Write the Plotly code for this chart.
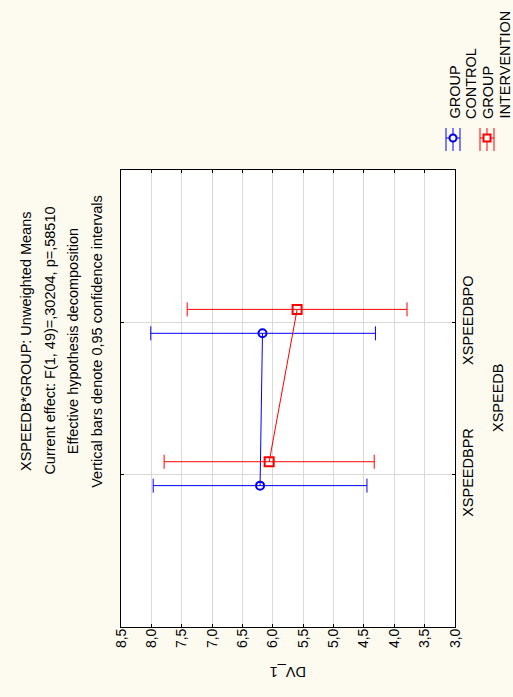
import plotly.graph_objects as go

# ---- data ----
categories = ["XSPEEDBPR", "XSPEEDBPO"]
control_mean = [6.21, 6.17]
control_lower = [4.45, 4.31]
control_upper = [7.97, 8.01]
interv_mean = [6.06, 5.60]
interv_lower = [4.33, 3.79]
interv_upper = [7.79, 7.41]
xtick_vals = [8.5, 8.0, 7.5, 7.0, 6.5, 6.0, 5.5, 5.0, 4.5, 4.0, 3.5, 3.0]
xtick_text = ["8,5", "8,0", "7,5", "7,0", "6,5", "6,0", "5,5", "5,0", "4,5", "4,0", "3,5", "3,0"]
title_lines = [
    "XSPEEDB*GROUP: Unweighted Means",
    "Current effect: F(1, 49)=,30204, p=,58510",
    "Effective hypothesis decomposition",
    "Vertical bars denote 0,95 confidence intervals",
]
legend_labels = [("GROUP", "CONTROL"), ("GROUP", "INTERVENTION")]

# ---- layout geometry ----
W, H = 513, 697
L, R, T, B = 121, 58, 170, 70
PW, PH = W - L - R, H - T - B
FONT = "Liberation Sans, Arial, sans-serif"
BLUE, RED = "#0000FF", "#FF0000"
BG = "#FDFAF0"


def px(xp):
    return (xp - L) / PW


def py(yp):
    return (H - B - yp) / PH


pos = list(range(len(categories)))
ctrl_y = [p - 0.072 for p in pos]
int_y = [p + 0.085 for p in pos]

fig = go.Figure()
fig.add_trace(go.Scatter(
    x=control_mean, y=ctrl_y, mode="lines+markers",
    line=dict(color=BLUE, width=1),
    marker=dict(symbol="circle-open", size=8, color=BLUE, line=dict(width=2, color=BLUE)),
    error_x=dict(type="data", symmetric=False,
                 array=[u - m for u, m in zip(control_upper, control_mean)],
                 arrayminus=[m - l for m, l in zip(control_mean, control_lower)],
                 color=BLUE, thickness=1, width=7),
    showlegend=False,
))
fig.add_trace(go.Scatter(
    x=interv_mean, y=int_y, mode="lines+markers",
    line=dict(color=RED, width=1),
    marker=dict(symbol="square-open", size=9, color=RED, line=dict(width=2, color=RED)),
    error_x=dict(type="data", symmetric=False,
                 array=[u - m for u, m in zip(interv_upper, interv_mean)],
                 arrayminus=[m - l for m, l in zip(interv_mean, interv_lower)],
                 color=RED, thickness=1, width=7),
    showlegend=False,
))

annotations = []
for i, line in enumerate(title_lines):
    annotations.append(dict(
        text=line, xref="paper", yref="paper", x=px(26 + i * 23.6), y=py(341),
        xanchor="center", yanchor="middle", textangle=-90, showarrow=False,
        font=dict(family=FONT, size=14.5, color="black")))
annotations.append(dict(
    text="XSPEEDB", xref="paper", yref="paper", x=px(498), y=py(398),
    xanchor="center", yanchor="middle", textangle=-90, showarrow=False,
    font=dict(family=FONT, size=14.5, color="black")))
annotations.append(dict(
    text="DV_1", xref="paper", yref="paper", x=px(288), y=py(672),
    xanchor="center", yanchor="middle", textangle=180, showarrow=False,
    font=dict(family=FONT, size=14.5, color="black")))
leg_x = [(454, 470.5), (487.5, 504.5)]
for (a, b), (xa, xb) in zip(legend_labels, leg_x):
    for txt, xx in ((a, xa), (b, xb)):
        annotations.append(dict(
            text=txt, xref="paper", yref="paper", x=px(xx), y=py(121),
            xanchor="center", yanchor="bottom", textangle=-90, showarrow=False,
            font=dict(family=FONT, size=14.5, color="black")))

shapes = []
for cx, col, kind in ((453, BLUE, "circle"), (487, RED, "rect")):
    for dx in (-7, 0, 7):
        shapes.append(dict(type="line", xref="paper", yref="paper",
                           x0=px(cx + dx), x1=px(cx + dx), y0=py(128), y1=py(151),
                           line=dict(color=col, width=1)))
    shapes.append(dict(type="line", xref="paper", yref="paper",
                       x0=px(cx - 7), x1=px(cx + 7), y0=py(138), y1=py(138),
                       line=dict(color=col, width=1)))
    shapes.append(dict(type=kind, xref="paper", yref="paper",
                       x0=px(cx - 3.5), x1=px(cx + 3.5), y0=py(134.5), y1=py(141.5),
                       line=dict(color=col, width=2), fillcolor="white"))

fig.update_layout(
    width=W, height=H,
    margin=dict(l=L, r=R, t=T, b=B, pad=0),
    paper_bgcolor=BG, plot_bgcolor="white",
    font=dict(family=FONT, size=14, color="black"),
    annotations=annotations, shapes=shapes,
    showlegend=False,
)
fig.update_xaxes(
    range=[8.5, 3.0], tickvals=xtick_vals, ticktext=xtick_text, tickangle=-90,
    showgrid=True, gridcolor="#D9D9D9", gridwidth=1, zeroline=False,
    showline=True, linecolor="black", linewidth=1, mirror="ticks",
    ticks="inside", ticklen=3, tickcolor="black",
    tickfont=dict(family=FONT, size=14, color="black"), ticklabelstandoff=-5,
)
fig.update_yaxes(
    range=[-1, 2], tickvals=pos, ticktext=categories, tickangle=-90, side="right",
    showgrid=True, gridcolor="#D9D9D9", gridwidth=1, zeroline=False,
    showline=True, linecolor="black", linewidth=1, mirror="ticks",
    ticks="inside", ticklen=3, tickcolor="black",
    tickfont=dict(family=FONT, size=14.5, color="black"), ticklabelstandoff=0,
)

fig.write_html(
    "out.html",
    config={"displayModeBar": False},
    post_script="document.body.style.margin='0';document.body.style.overflow='hidden';"
                "document.body.style.background='" + BG + "';",
)
